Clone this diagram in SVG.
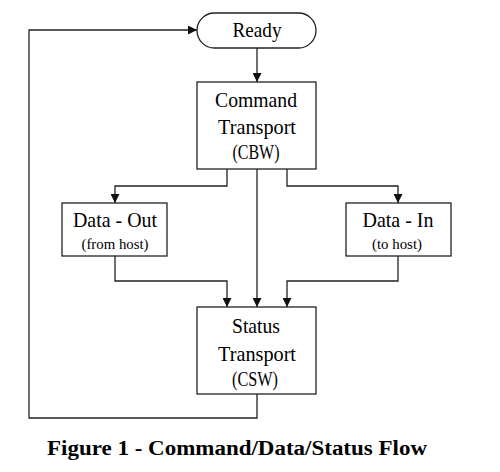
<svg xmlns="http://www.w3.org/2000/svg" width="500" height="472" viewBox="0 0 500 472">
<style>
.box{fill:#fff;stroke:#222;stroke-width:1.3}
.c{fill:none;stroke:#222;stroke-width:1.3}
.t{font-family:"Liberation Serif","Times New Roman",serif;fill:#000;text-anchor:middle}
.big{font-size:21px}
.sm{font-size:15px}
.cap{font-family:"Liberation Serif","Times New Roman",serif;font-weight:bold;font-size:20px;text-anchor:middle;fill:#000}
</style>
<defs>
<marker id="ah" viewBox="0 0 10 10" refX="10" refY="5" markerWidth="9" markerHeight="9" markerUnits="userSpaceOnUse" orient="auto">
<path d="M0,0 L10,5 L0,10 z" fill="#111"/>
</marker>
</defs>
<rect width="500" height="472" fill="#fff"/>
<g id="connectors">
<path class="c" d="M257,48 V82" marker-end="url(#ah)"/>
<path class="c" d="M227,169 V186 H115 V203" marker-end="url(#ah)"/>
<path class="c" d="M287,169 V186 H398 V203" marker-end="url(#ah)"/>
<path class="c" d="M257,169 V307" marker-end="url(#ah)"/>
<path class="c" d="M115,256 V281 H227 V307" marker-end="url(#ah)"/>
<path class="c" d="M398,256 V281 H287 V307" marker-end="url(#ah)"/>
<path class="c" d="M257,394 V418 H29 V30 H197" marker-end="url(#ah)"/>
</g>
<g id="ready">
<rect class="box" x="197" y="13" width="119" height="35" rx="17.5"/>
<text class="t big" x="257" y="37" textLength="49" lengthAdjust="spacingAndGlyphs">Ready</text>
</g>
<g id="command">
<rect class="box" x="197" y="82" width="119" height="87"/>
<text class="t big" x="256" y="107" textLength="82" lengthAdjust="spacingAndGlyphs">Command</text>
<text class="t big" x="257" y="134" textLength="78" lengthAdjust="spacingAndGlyphs">Transport</text>
<text class="t big" x="256" y="159" textLength="47" lengthAdjust="spacingAndGlyphs">(CBW)</text>
</g>
<g id="dataout">
<rect class="box" x="62" y="203" width="105" height="53"/>
<text class="t big" x="115" y="227" textLength="84" lengthAdjust="spacingAndGlyphs">Data - Out</text>
<text class="t sm" x="115" y="249" textLength="67" lengthAdjust="spacingAndGlyphs">(from host)</text>
</g>
<g id="datain">
<rect class="box" x="346" y="203" width="105" height="53"/>
<text class="t big" x="398" y="227" textLength="71" lengthAdjust="spacingAndGlyphs">Data - In</text>
<text class="t sm" x="397" y="249" textLength="50" lengthAdjust="spacingAndGlyphs">(to host)</text>
</g>
<g id="status">
<rect class="box" x="197" y="307" width="119" height="87"/>
<text class="t big" x="256" y="333" textLength="48" lengthAdjust="spacingAndGlyphs">Status</text>
<text class="t big" x="257" y="361" textLength="78" lengthAdjust="spacingAndGlyphs">Transport</text>
<text class="t big" x="255" y="386" textLength="46" lengthAdjust="spacingAndGlyphs">(CSW)</text>
</g>
<text class="cap" x="237" y="455" textLength="380" lengthAdjust="spacingAndGlyphs">Figure 1 - Command/Data/Status Flow</text>
</svg>
